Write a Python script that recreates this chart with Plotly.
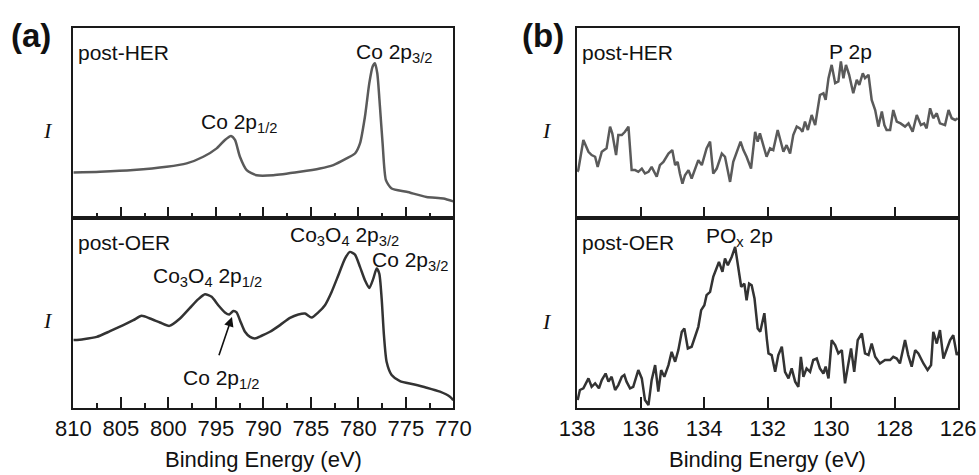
import plotly.graph_objects as go

# ---- Co 2p region (panel a) ----
her_co_ev = [810.0, 807.19, 803.68, 800.18, 798.07, 796.32, 794.91, 794.04, 793.40, 792.98,
             792.46, 791.75, 790.70, 788.95, 786.14, 784.04, 782.63, 781.23, 780.35, 779.82,
             779.30, 778.84, 778.49, 778.25, 778.00, 777.72, 777.44, 777.09, 776.49, 774.91,
             772.81, 771.05, 770.0]
her_co_int = [0.240, 0.244, 0.253, 0.270, 0.288, 0.323, 0.367, 0.411, 0.432, 0.411,
              0.323, 0.253, 0.226, 0.226, 0.244, 0.261, 0.279, 0.314, 0.340, 0.393,
              0.533, 0.709, 0.796, 0.814, 0.761, 0.586, 0.393, 0.200, 0.156, 0.139,
              0.112, 0.104, 0.089]

oer_co_ev = [810.0, 808.95, 807.54, 806.14, 804.74, 803.68, 802.81, 801.93, 800.88, 799.89,
             798.77, 797.72, 796.84, 796.14, 795.44, 794.74, 794.04, 793.58, 793.16, 792.81,
             792.46, 791.93, 791.40, 790.88, 790.18, 789.30, 788.24, 787.19, 786.31, 785.61,
             784.91, 784.21, 783.51, 782.81, 782.10, 781.40, 780.88, 780.35, 779.82, 779.30,
             778.84, 778.42, 778.07, 777.79, 777.54, 777.30, 777.02, 776.49, 775.61, 774.21,
             772.81, 771.40, 770.35, 770.0]
oer_co_int = [0.358, 0.363, 0.375, 0.405, 0.437, 0.463, 0.486, 0.472, 0.451, 0.433,
              0.472, 0.528, 0.574, 0.600, 0.586, 0.542, 0.504, 0.493, 0.511, 0.504,
              0.463, 0.402, 0.375, 0.367, 0.381, 0.402, 0.437, 0.475, 0.493, 0.498,
              0.477, 0.504, 0.542, 0.612, 0.700, 0.788, 0.823, 0.809, 0.744, 0.674,
              0.633, 0.682, 0.735, 0.709, 0.577, 0.384, 0.244, 0.174, 0.142, 0.125,
              0.107, 0.086, 0.060, 0.042]

# ---- P 2p region (panel b) ----
her_p_ev = [137.99, 137.96, 137.80, 137.64, 137.54, 137.43, 137.35, 137.22, 137.07, 136.96,
            136.89, 136.77, 136.70, 136.59, 136.49, 136.38, 136.28, 136.17, 136.07, 135.96,
            135.86, 135.75, 135.65, 135.49, 135.39, 135.28, 135.12, 135.00, 134.91, 134.83,
            134.76, 134.68, 134.60, 134.49, 134.39, 134.28, 134.18, 134.07, 133.92, 133.81,
            133.71, 133.60, 133.44, 133.34, 133.18, 133.08, 132.92, 132.85, 132.76, 132.66,
            132.52, 132.39, 132.31, 132.24, 132.15, 132.03, 131.92, 131.82, 131.68, 131.57,
            131.50, 131.40, 131.29, 131.19, 131.08, 130.98, 130.90, 130.82, 130.73, 130.61,
            130.50, 130.35, 130.24, 130.17, 130.08, 129.98, 129.87, 129.77, 129.69, 129.61,
            129.53, 129.43, 129.30, 129.19, 129.11, 129.00, 128.93, 128.82, 128.72, 128.61,
            128.51, 128.40, 128.32, 128.25, 128.14, 128.04, 127.93, 127.81, 127.67, 127.56,
            127.43, 127.30, 127.17, 127.07, 126.99, 126.88, 126.78, 126.67, 126.57, 126.41,
            126.30, 126.20, 126.09, 126.01]
her_p_int = [0.244, 0.253, 0.411, 0.349, 0.332, 0.323, 0.270, 0.349, 0.367, 0.481,
             0.446, 0.332, 0.437, 0.437, 0.454, 0.481, 0.253, 0.253, 0.244, 0.261,
             0.235, 0.244, 0.270, 0.218, 0.279, 0.296, 0.340, 0.358, 0.279, 0.296,
             0.235, 0.182, 0.226, 0.253, 0.209, 0.261, 0.305, 0.279, 0.367, 0.402,
             0.235, 0.261, 0.340, 0.323, 0.191, 0.296, 0.375, 0.402, 0.358, 0.323,
             0.261, 0.454, 0.402, 0.446, 0.393, 0.323, 0.367, 0.358, 0.463, 0.384,
             0.349, 0.384, 0.340, 0.437, 0.481, 0.472, 0.454, 0.507, 0.463, 0.542,
             0.489, 0.647, 0.656, 0.621, 0.735, 0.805, 0.709, 0.718, 0.823, 0.735,
             0.805, 0.753, 0.656, 0.726, 0.700, 0.761, 0.735, 0.753, 0.621, 0.568,
             0.481, 0.560, 0.489, 0.463, 0.463, 0.568, 0.507, 0.498, 0.481, 0.498,
             0.454, 0.542, 0.489, 0.498, 0.472, 0.577, 0.525, 0.551, 0.498, 0.489,
             0.568, 0.525, 0.516, 0.525]

oer_p_ev = [137.98, 137.91, 137.80, 137.64, 137.54, 137.43, 137.31, 137.22, 137.10, 137.01,
            136.91, 136.80, 136.70, 136.59, 136.51, 136.44, 136.33, 136.23, 136.07, 135.96,
            135.86, 135.75, 135.65, 135.54, 135.44, 135.35, 135.25, 135.12, 135.02, 134.91,
            134.81, 134.70, 134.62, 134.51, 134.39, 134.30, 134.18, 134.09, 133.99, 133.92,
            133.81, 133.71, 133.60, 133.53, 133.42, 133.34, 133.25, 133.13, 133.02, 132.92,
            132.83, 132.73, 132.66, 132.58, 132.50, 132.41, 132.31, 132.23, 132.10, 132.02,
            131.97, 131.87, 131.76, 131.66, 131.55, 131.45, 131.34, 131.24, 131.13, 131.03,
            130.95, 130.87, 130.77, 130.66, 130.56, 130.45, 130.35, 130.24, 130.17, 130.08,
            129.98, 129.87, 129.77, 129.66, 129.56, 129.48, 129.37, 129.27, 129.16, 129.03,
            128.93, 128.82, 128.72, 128.61, 128.46, 128.30, 128.14, 128.04, 127.93, 127.83,
            127.67, 127.57, 127.46, 127.35, 127.25, 127.09, 126.96, 126.85, 126.78, 126.67,
            126.57, 126.46, 126.36, 126.25, 126.15, 126.04, 126.00]
oer_p_int = [0.042, 0.095, 0.104, 0.156, 0.112, 0.130, 0.104, 0.147, 0.182, 0.139,
             0.165, 0.095, 0.121, 0.165, 0.174, 0.139, 0.104, 0.112, 0.200, 0.156,
             0.042, 0.016, 0.147, 0.226, 0.086, 0.200, 0.165, 0.226, 0.296, 0.244,
             0.305, 0.402, 0.419, 0.314, 0.323, 0.367, 0.428, 0.516, 0.542, 0.595,
             0.612, 0.691, 0.735, 0.770, 0.718, 0.788, 0.753, 0.796, 0.849, 0.735,
             0.639, 0.656, 0.568, 0.656, 0.647, 0.577, 0.419, 0.402, 0.500, 0.360,
             0.288, 0.279, 0.191, 0.279, 0.323, 0.191, 0.156, 0.209, 0.139, 0.112,
             0.270, 0.165, 0.209, 0.191, 0.253, 0.261, 0.209, 0.182, 0.218, 0.156,
             0.358, 0.332, 0.288, 0.305, 0.130, 0.209, 0.314, 0.191, 0.358, 0.393,
             0.288, 0.279, 0.340, 0.270, 0.235, 0.253, 0.253, 0.270, 0.261, 0.235,
             0.358, 0.279, 0.218, 0.305, 0.288, 0.235, 0.200, 0.226, 0.402, 0.340,
             0.411, 0.261, 0.305, 0.358, 0.384, 0.279, 0.296]

co_ticks = [810, 805, 800, 795, 790, 785, 780, 775, 770]
p_ticks = [138, 136, 134, 132, 130, 128, 126]

HER_COLOR = "#5a5a5a"
OER_COLOR = "#333333"
AX_COLOR = "#1a1a1a"
TXT_COLOR = "#111111"
SANS = "Liberation Sans, Arial, sans-serif"

fig = go.Figure()
fig.add_trace(go.Scatter(x=her_co_ev, y=her_co_int, mode="lines", xaxis="x", yaxis="y",
                         line=dict(color=HER_COLOR, width=2.5, shape="spline", smoothing=0.6)))
fig.add_trace(go.Scatter(x=oer_co_ev, y=oer_co_int, mode="lines", xaxis="x2", yaxis="y2",
                         line=dict(color=OER_COLOR, width=2.5, shape="spline", smoothing=0.6)))
fig.add_trace(go.Scatter(x=her_p_ev, y=her_p_int, mode="lines", xaxis="x3", yaxis="y3",
                         line=dict(color=HER_COLOR, width=2.5)))
fig.add_trace(go.Scatter(x=oer_p_ev, y=oer_p_int, mode="lines", xaxis="x4", yaxis="y4",
                         line=dict(color=OER_COLOR, width=2.5)))

dom_a = [0.0749, 0.4630]
dom_b = [0.5894, 0.9786]
dom_top = [0.5404, 0.9417]
dom_bot = [0.1410, 0.5404]


def xax(domain, rng, ticks, anchor, labels, minor=None):
    d = dict(domain=domain, range=rng, anchor=anchor, automargin=False,
             tickmode="array", tickvals=ticks, ticktext=[str(t) for t in ticks],
             showticklabels=labels,
             ticks="inside", ticklen=11, tickwidth=1.5, tickcolor=AX_COLOR,
             showline=True, mirror=True, linecolor=AX_COLOR, linewidth=2,
             showgrid=False, zeroline=False,
             tickfont=dict(family=SANS, size=22, color=TXT_COLOR))
    if minor:
        d["minor"] = minor
    return d


def yax(domain, anchor):
    return dict(domain=domain, range=[0, 1], anchor=anchor, automargin=False,
                showticklabels=False, ticks="",
                showline=True, mirror=True, linecolor=AX_COLOR, linewidth=2,
                showgrid=False, zeroline=False)


co_minor = dict(dtick=2.5, tick0=0, ticks="inside", ticklen=5, tickwidth=1.5, tickcolor=AX_COLOR)

fig.update_layout(
    width=979, height=475,
    margin=dict(l=0, r=0, t=0, b=0, autoexpand=False),
    paper_bgcolor="white", plot_bgcolor="white",
    showlegend=False,
    xaxis=xax(dom_a, [810, 770], co_ticks, "y", False, co_minor),
    yaxis=yax(dom_top, "x"),
    xaxis2=xax(dom_a, [810, 770], co_ticks, "y2", True, co_minor),
    yaxis2=yax(dom_bot, "x2"),
    xaxis3=xax(dom_b, [138, 126], p_ticks, "y3", False),
    yaxis3=yax(dom_top, "x3"),
    xaxis4=xax(dom_b, [138, 126], p_ticks, "y4", True),
    yaxis4=yax(dom_bot, "x4"),
)

lab_font = dict(family=SANS, size=21, color=TXT_COLOR)
ann = []


def note(**kw):
    kw.setdefault("showarrow", False)
    kw.setdefault("xanchor", "center")
    kw.setdefault("yanchor", "middle")
    ann.append(kw)


# panel letters
for xp, letter in [(0.0317, "(a)"), (0.5544, "(b)")]:
    note(text="<b>%s</b>" % letter, x=xp, y=0.926, xref="paper", yref="paper",
         font=dict(family=SANS, size=33, color=TXT_COLOR))

# intensity labels
for xp, yp in [(0.049, 0.7263), (0.049, 0.326), (0.5587, 0.7263), (0.5587, 0.3226)]:
    note(text="<i>I</i>", x=xp, y=yp, xref="paper", yref="paper",
         font=dict(family="Liberation Serif, Times New Roman, serif", size=22, color=TXT_COLOR))

# sample labels
for xr, yr, txt in [("x domain", "y domain", "post-HER"), ("x2 domain", "y2 domain", "post-OER"),
                    ("x3 domain", "y3 domain", "post-HER"), ("x4 domain", "y4 domain", "post-OER")]:
    note(text=txt, x=0.008, y=0.87, xref=xr, yref=yr, xanchor="left", font=lab_font)

# peak labels
peaks = [
    ("x", "y", 792.56, 0.50, "Co 2p<sub>1/2</sub>"),
    ("x", "y", 776.25, 0.865, "Co 2p<sub>3/2</sub>"),
    ("x2", "y2", 781.5, 0.905, "Co<sub>3</sub>O<sub>4</sub> 2p<sub>3/2</sub>"),
    ("x2", "y2", 774.55, 0.775, "Co 2p<sub>3/2</sub>"),
    ("x2", "y2", 795.87, 0.69, "Co<sub>3</sub>O<sub>4</sub> 2p<sub>1/2</sub>"),
    ("x2", "y2", 794.47, 0.155, "Co 2p<sub>1/2</sub>"),
    ("x3", "y3", 129.40, 0.875, "P 2p"),
    ("x4", "y4", 132.87, 0.90, "PO<sub>x</sub> 2p"),
]
for xr, yr, xv, yv, txt in peaks:
    note(text=txt, x=xv, y=yv, xref=xr, yref=yr, font=lab_font)

# arrow to the metallic Co 2p1/2 shoulder
ann.append(dict(text="", x=793.3, y=0.48, xref="x2", yref="y2",
                ax=794.72, ay=0.27, axref="x2", ayref="y2",
                showarrow=True, arrowhead=2, arrowsize=1.2, arrowwidth=1.6, arrowcolor=TXT_COLOR))

# axis titles
for xp in [0.269, 0.784]:
    note(text="Binding Energy (eV)", x=xp, y=0.0316, xref="paper", yref="paper",
         font=dict(family=SANS, size=22, color=TXT_COLOR))

fig.update_layout(annotations=ann)
fig.write_html("out.html")
